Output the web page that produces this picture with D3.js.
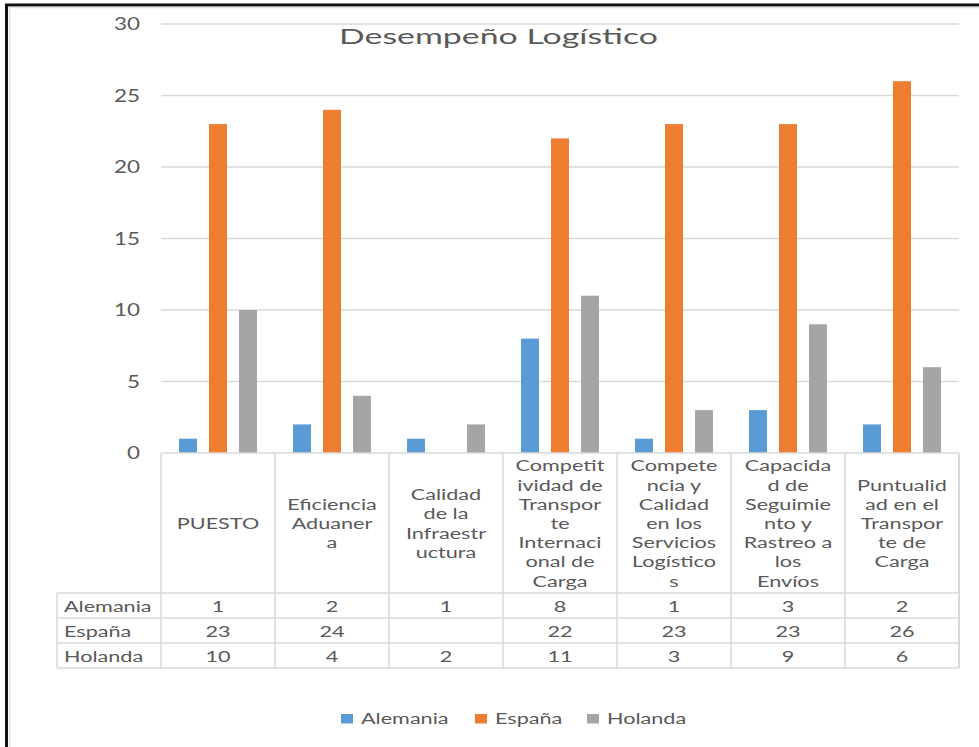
<!DOCTYPE html>
<html>
<head>
<meta charset="utf-8">
<script src="https://cdn.jsdelivr.net/npm/d3@7"></script>
<style>
  html, body { margin: 0; padding: 0; background: #fff; }
  svg { display: block; }
  text { font-family: Lato, "Open Sans", sans-serif; fill: #595959; }
</style>
</head>
<body>
<svg id="chart" width="979" height="747"></svg>
<script>
// Categories: full names and the wrapped lines shown in the table header
const categories = [
  "PUESTO",
  "Eficiencia Aduanera",
  "Calidad de la Infraestructura",
  "Competitividad de Transporte Internacional de Carga",
  "Competencia y Calidad en los Servicios Logísticos",
  "Capacidad de Seguimiento y Rastreo a los Envíos",
  "Puntualidad en el Transporte de Carga"
];
const categoryLines = [
  ["PUESTO"],
  ["Eficiencia", "Aduaner", "a"],
  ["Calidad", "de la", "Infraestr", "uctura"],
  ["Competit", "ividad de", "Transpor", "te", "Internaci", "onal de", "Carga"],
  ["Compete", "ncia y", "Calidad", "en los", "Servicios", "Logístico", "s"],
  ["Capacida", "d de", "Seguimie", "nto y", "Rastreo a", "los", "Envíos"],
  ["Puntualid", "ad en el", "Transpor", "te de", "Carga"]
];

const seriesNames = ["Alemania", "España", "Holanda"];
const alemania = [1, 2, 1, 8, 1, 3, 2];
const espana   = [23, 24, null, 22, 23, 23, 26];
const holanda  = [10, 4, 2, 11, 3, 9, 6];
const seriesValues = [alemania, espana, holanda];
const seriesColors = ["#5B9BD5", "#ED7D31", "#A5A5A5"];

const yTicks = [0, 5, 10, 15, 20, 25, 30];
const title = "Desempeño Logístico";

// Text is drawn slightly widened horizontally
const SX = 1.36;
const FS = 15.9;

const svg = d3.select("#chart");

// Outer frame
svg.append("rect")
  .attr("x", 6.5).attr("y", 5).attr("width", 1000).attr("height", 800)
  .attr("fill", "none").attr("stroke", "#111").attr("stroke-width", 3);
svg.append("rect")
  .attr("x", 9.5).attr("y", 7.5).attr("width", 1000).attr("height", 800)
  .attr("fill", "none").attr("stroke", "#e3e3e3").attr("stroke-width", 1.5);

const plotLeft = 161, plotRight = 959, plotTop = 24, plotBottom = 453;

const x = d3.scaleBand().domain(categories).range([plotLeft, plotRight]).padding(0);
const xs = d3.scaleBand().domain(seriesNames).range([18, x.bandwidth() - 18]).paddingInner(0.4).paddingOuter(0);
const y = d3.scaleLinear().domain([0, 30]).range([plotBottom, plotTop]);

function wideText(sel, tx, ty, anchor) {
  return sel.append("text")
    .attr("transform", `translate(${tx},${ty}) scale(${SX},1)`)
    .attr("text-anchor", anchor || "middle");
}

// Gridlines
svg.append("g").selectAll("line").data(yTicks.filter(d => d > 0)).join("line")
  .attr("x1", plotLeft).attr("x2", plotRight)
  .attr("y1", d => y(d)).attr("y2", d => y(d))
  .attr("stroke", "#d9d9d9").attr("stroke-width", 1.5);

// Y axis labels
const yAxis = svg.append("g");
yTicks.forEach(t => {
  wideText(yAxis, 140, y(t) + 6, "end")
    .attr("font-size", 16.5).text(t);
});

// Title
svg.append("text")
  .attr("x", 339).attr("y", 44)
  .attr("font-size", 22)
  .attr("textLength", 319).attr("lengthAdjust", "spacingAndGlyphs")
  .text(title);

// Bars
const groups = svg.append("g").selectAll("g").data(categories).join("g")
  .attr("transform", d => `translate(${x(d)},0)`);
groups.selectAll("rect")
  .data((c, i) => seriesNames.map((s, k) => ({ s, v: seriesValues[k][i], color: seriesColors[k] })).filter(d => d.v != null))
  .join("rect")
  .attr("x", d => xs(d.s))
  .attr("width", xs.bandwidth())
  .attr("y", d => y(d.v))
  .attr("height", d => y(0) - y(d.v))
  .attr("fill", d => d.color);

// Data table
const tableColor = "#d9d9d9";
const headerBottom = 593;
const rowH = 25;
const tableLeft = 57;
const table = svg.append("g");
const rowTops = seriesNames.map((s, i) => headerBottom + i * rowH);
const tableBottom = headerBottom + seriesNames.length * rowH;

// horizontal lines
table.append("line").attr("x1", plotLeft).attr("x2", plotRight).attr("y1", plotBottom).attr("y2", plotBottom)
  .attr("stroke", tableColor).attr("stroke-width", 1.5);
[headerBottom, ...rowTops.slice(1), tableBottom].forEach(yy => {
  table.append("line").attr("x1", tableLeft).attr("x2", plotRight).attr("y1", yy).attr("y2", yy)
    .attr("stroke", tableColor).attr("stroke-width", 1.5);
});
// vertical lines
categories.forEach(c => {
  table.append("line").attr("x1", x(c)).attr("x2", x(c)).attr("y1", plotBottom).attr("y2", tableBottom)
    .attr("stroke", tableColor).attr("stroke-width", 1.5);
});
table.append("line").attr("x1", plotRight).attr("x2", plotRight).attr("y1", plotBottom).attr("y2", tableBottom)
  .attr("stroke", tableColor).attr("stroke-width", 2);
table.append("line").attr("x1", tableLeft).attr("x2", tableLeft).attr("y1", headerBottom).attr("y2", tableBottom)
  .attr("stroke", tableColor).attr("stroke-width", 1.5);

// category headers
const lineH = 19.2;
categories.forEach((c, i) => {
  const lines = categoryLines[i];
  const cx = x(c) + x.bandwidth() / 2;
  const firstBase = (plotBottom + headerBottom) / 2 + 6 - (lines.length - 1) * lineH / 2;
  lines.forEach((ln, j) => {
    wideText(table, cx, firstBase + j * lineH).attr("font-size", FS).text(ln);
  });
});

// rows
seriesNames.forEach((s, k) => {
  const base = rowTops[k] + rowH / 2 + 6;
  wideText(table, 64, base, "start").attr("font-size", FS).text(s);
  categories.forEach((c, i) => {
    const v = seriesValues[k][i];
    if (v != null) {
      wideText(table, x(c) + x.bandwidth() / 2, base).attr("font-size", FS).text(v);
    }
  });
});

// Legend
const legendItems = [
  { name: seriesNames[0], color: seriesColors[0], x: 341 },
  { name: seriesNames[1], color: seriesColors[1], x: 475 },
  { name: seriesNames[2], color: seriesColors[2], x: 587 }
];
const legend = svg.append("g");
legendItems.forEach(d => {
  legend.append("rect").attr("x", d.x).attr("y", 714).attr("width", 12).attr("height", 9.5).attr("fill", d.color);
  wideText(legend, d.x + 20, 724, "start").attr("font-size", FS).text(d.name);
});
</script>
</body>
</html>
